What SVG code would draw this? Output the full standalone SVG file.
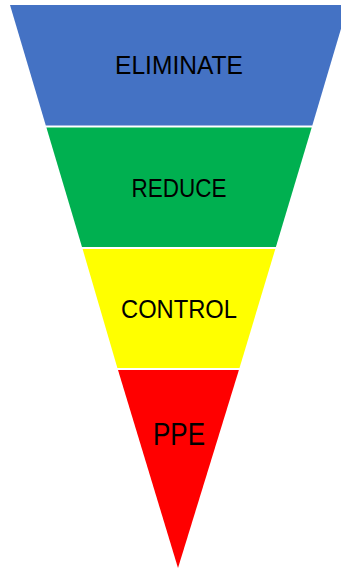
<svg xmlns="http://www.w3.org/2000/svg" width="341" height="570" viewBox="0 0 341 570">
<style>
.lbl{font-family:"Liberation Sans",Arial,sans-serif;fill:#000;text-anchor:middle}
</style>
<rect width="341" height="570" fill="#fff"/>
<g id="eliminate">
<polygon points="10,5 348,5 312.3,125.5 45.8,125.5" fill="#4472C4"/>
<text class="lbl" x="179" y="74" font-size="25" textLength="128" lengthAdjust="spacingAndGlyphs">ELIMINATE</text>
</g>
<g id="reduce">
<polygon points="46.4,127.5 311.7,127.5 275.9,247 82,247" fill="#00B050"/>
<text class="lbl" x="179" y="197" font-size="25" textLength="95" lengthAdjust="spacingAndGlyphs">REDUCE</text>
</g>
<g id="control">
<polygon points="82.6,249 275.3,249 239.5,368 117.4,368" fill="#FFFF00"/>
<text class="lbl" x="179" y="318" font-size="25" textLength="116" lengthAdjust="spacingAndGlyphs">CONTROL</text>
</g>
<g id="ppe">
<polygon points="118,370 238.9,370 178,568" fill="#FF0000"/>
<text class="lbl" x="179" y="445" font-size="31" textLength="52" lengthAdjust="spacingAndGlyphs">PPE</text>
</g>
<g id="connectors"/>
</svg>
